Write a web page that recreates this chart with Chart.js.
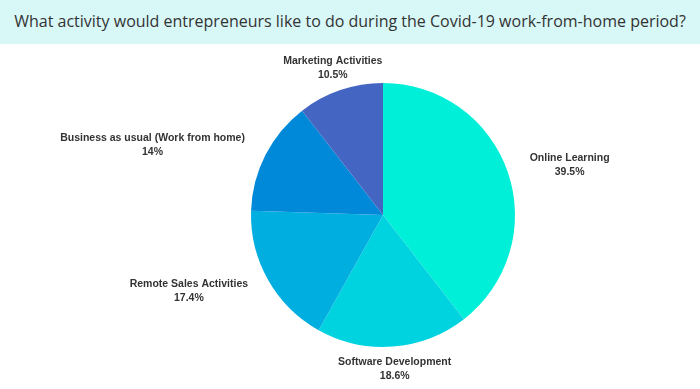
<!DOCTYPE html>
<html>
<head>
<meta charset="utf-8">
<script src="https://cdn.jsdelivr.net/npm/chart.js@4"></script>
<style>
  html, body { margin: 0; padding: 0; background: #fff; }
  #wrap { width: 700px; height: 389px; }
  #title {
    height: 44px; line-height: 43px; background: #d8f7f7;
    font-family: 'Open Sans', sans-serif; font-size: 16px; color: #333;
    text-align: center; white-space: nowrap;
  }
  #box { position: relative; width: 700px; height: 345px; }
</style>
</head>
<body>
<div id="wrap">
  <div id="title">What activity would entrepreneurs like to do during the Covid-19 work-from-home period?</div>
  <div id="box"><canvas id="myChart"></canvas></div>
</div>
<script>
// data
const labels = [
  'Online Learning',
  'Software Development',
  'Remote Sales Activities',
  'Business as usual (Work from home)',
  'Marketing Activities',
];
const values = [39.5, 18.6, 17.4, 14, 10.5];
const valueLabels = ['39.5%', '18.6%', '17.4%', '14%', '10.5%'];
const colors = ['#00efd8', '#00d3e0', '#00aee0', '#0089d8', '#4466c2'];

// draw the labels outside of each slice (two centred lines per block)
const outsideLabels = {
  id: 'outsideLabels',
  afterDatasetsDraw(chart) {
    const ctx = chart.ctx;
    const meta = chart.getDatasetMeta(0);
    const lineH = 14;
    ctx.save();
    ctx.font = 'bold 10.5px "Liberation Sans", Arial, sans-serif';
    ctx.fillStyle = '#333';
    ctx.textAlign = 'center';
    ctx.textBaseline = 'middle';
    meta.data.forEach((arc, i) => {
      const p = arc.getProps(['x', 'y', 'startAngle', 'endAngle', 'outerRadius'], true);
      const mid = (p.startAngle + p.endAngle) / 2;
      const r = p.outerRadius + 23;
      const cx = Math.cos(mid), cy = Math.sin(mid);
      const px = p.x + cx * r;
      const py = p.y + cy * r;
      const w = Math.max(ctx.measureText(labels[i]).width, ctx.measureText(valueLabels[i]).width);
      let bx = px;
      if (cx > 0.5) bx = px + w / 2;
      else if (cx < -0.5) bx = px - w / 2;
      ctx.fillText(labels[i], bx, py - lineH / 2);
      ctx.fillText(valueLabels[i], bx, py + lineH / 2);
    });
    ctx.restore();
  },
};

const chart = document.getElementById('myChart').getContext('2d');
const myChart = new Chart(chart, {
  type: 'pie',
  data: {
    labels: labels,
    datasets: [
      {
        data: values,
        backgroundColor: colors,
        borderWidth: 0,
      },
    ],
  },
  options: {
    responsive: true,
    maintainAspectRatio: false,
    animation: false,
    layout: {
      padding: { top: 39, bottom: 42, left: 150, right: 84 },
    },
    plugins: {
      legend: { display: false },
      tooltip: { enabled: false },
    },
  },
  plugins: [outsideLabels],
});
</script>
</body>
</html>
